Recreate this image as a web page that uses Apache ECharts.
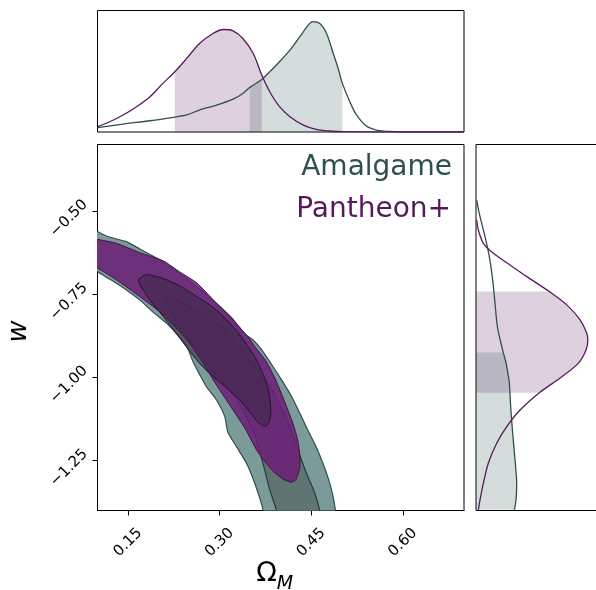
<!DOCTYPE html>
<html>
<head>
<meta charset="utf-8">
<script src="https://cdn.jsdelivr.net/npm/echarts@6/dist/echarts.min.js"></script>
<style>
  html, body { margin: 0; padding: 0; background: #ffffff; }
  #chart { width: 596px; height: 590px; }
</style>
</head>
<body>
<div id="chart"></div>
<script>
// ---- Marginal posterior of Omega_M (top panel) ----
const pantheonOmega = [0.100, 0.120, 0.142, 0.164, 0.186, 0.207, 0.2265, 0.246, 0.267, 0.289, 0.306, 0.322, 0.338, 0.355, 0.3689, 0.382, 0.398, 0.415, 0.437, 0.458, 0.480, 0.502, 0.550, 0.600, 0.700];
const pantheonOmegaDensity = [0.048, 0.093, 0.154, 0.229, 0.319, 0.440, 0.545, 0.666, 0.801, 0.892, 0.928, 0.916, 0.846, 0.711, 0.515, 0.364, 0.229, 0.139, 0.063, 0.024, 0.009, 0.003, 0.001, 0, 0];
const amalgameOmega = [0.100, 0.142, 0.186, 0.224, 0.246, 0.267, 0.295, 0.322, 0.338, 0.3493, 0.369, 0.382, 0.398, 0.415, 0.431, 0.445, 0.452, 0.464, 0.475, 0.486, 0.494, 0.5009, 0.513, 0.524, 0.540, 0.557, 0.578, 0.633, 0.700];
const amalgameOmegaDensity = [0.039, 0.072, 0.102, 0.133, 0.154, 0.199, 0.244, 0.298, 0.349, 0.404, 0.476, 0.545, 0.636, 0.741, 0.861, 0.967, 1.000, 0.982, 0.892, 0.711, 0.575, 0.440, 0.274, 0.154, 0.054, 0.018, 0.006, 0.003, 0.003];
const pantheonOmegaInterval = [0.2265, 0.3689];
const amalgameOmegaInterval = [0.3493, 0.5009];

// ---- Marginal posterior of w (right panel) ----
const pantheonW = [-0.527, -0.557, -0.597, -0.627, -0.662, -0.697, -0.742, -0.782, -0.827, -0.867, -0.887, -0.917, -0.957, -1.002, -1.046, -1.098, -1.148, -1.198, -1.258, -1.318, -1.368, -1.398];
const pantheonWDensity = [0.006, 0.021, 0.066, 0.155, 0.304, 0.454, 0.656, 0.812, 0.931, 0.991, 1.000, 0.985, 0.916, 0.752, 0.567, 0.394, 0.275, 0.185, 0.110, 0.066, 0.036, 0.021];
const amalgameW = [-0.467, -0.517, -0.577, -0.637, -0.707, -0.777, -0.847, -0.907, -0.9255, -0.957, -1.017, -1.088, -1.168, -1.248, -1.318, -1.368, -1.398];
const amalgameWDensity = [0.006, 0.036, 0.081, 0.119, 0.149, 0.170, 0.191, 0.230, 0.244, 0.269, 0.298, 0.310, 0.328, 0.349, 0.364, 0.358, 0.343];
const pantheonWInterval = [-1.046, -0.742];
const amalgameWInterval = [-1.398, -0.9255];

// ---- Joint credible contours [Omega_M, w] ----
const amalgameContour2 = [
  [0.0907, -0.557], [0.100, -0.562], [0.1147, -0.575], [0.1311, -0.584], [0.1475, -0.592], [0.1692, -0.614],
  [0.1966, -0.641], [0.2265, -0.677], [0.2592, -0.722], [0.2920, -0.773], [0.3198, -0.821], [0.3394, -0.866],
  [0.3542, -0.887], [0.3689, -0.917], [0.3853, -0.962], [0.4016, -1.008], [0.4164, -1.053], [0.4311, -1.107],
  [0.4442, -1.158], [0.4573, -1.206], [0.4688, -1.257], [0.4786, -1.308], [0.4851, -1.353], [0.4900, -1.404],
  [0.4917, -1.428], [0.3689, -1.428], [0.3710, -1.398], [0.3574, -1.318], [0.3439, -1.258], [0.3275, -1.208],
  [0.3133, -1.164], [0.3084, -1.118], [0.2948, -1.068], [0.2784, -1.028], [0.2674, -0.992], [0.2565, -0.953],
  [0.2457, -0.905], [0.2281, -0.866], [0.2129, -0.837], [0.1905, -0.803], [0.1692, -0.767], [0.1496, -0.740],
  [0.1311, -0.717], [0.1136, -0.698], [0.100, -0.682], [0.0907, -0.677]
];
const amalgameContour1 = [
  [0.2085, -0.761], [0.2216, -0.757], [0.2347, -0.770], [0.2560, -0.794], [0.2789, -0.821], [0.3034, -0.848],
  [0.3247, -0.893], [0.3460, -0.941], [0.3656, -0.986], [0.3836, -1.029], [0.3984, -1.083], [0.4115, -1.134],
  [0.4229, -1.188], [0.4311, -1.233], [0.4421, -1.288], [0.4557, -1.348], [0.4638, -1.400], [0.4655, -1.428],
  [0.3918, -1.428], [0.3930, -1.400], [0.3820, -1.338], [0.3738, -1.278], [0.3656, -1.224], [0.3574, -1.173],
  [0.3444, -1.122], [0.3296, -1.068], [0.3100, -1.023], [0.2871, -0.977], [0.2642, -0.923], [0.2429, -0.869],
  [0.2265, -0.821], [0.2134, -0.782]
];
const pantheonContour2 = [
  [0.0907, -0.671], [0.100, -0.672], [0.1311, -0.707], [0.1692, -0.757], [0.2020, -0.803], [0.2347, -0.863],
  [0.2560, -0.911], [0.2756, -0.965], [0.2948, -1.023], [0.3165, -1.083], [0.3411, -1.152], [0.3624, -1.224],
  [0.3853, -1.278], [0.4033, -1.305], [0.4164, -1.315], [0.4246, -1.308], [0.4311, -1.272], [0.4311, -1.233],
  [0.4278, -1.188], [0.4197, -1.137], [0.4066, -1.074], [0.3918, -1.008], [0.3766, -0.953], [0.3591, -0.911],
  [0.3460, -0.878], [0.3219, -0.827], [0.2948, -0.777], [0.2625, -0.716], [0.2347, -0.683], [0.2080, -0.650],
  [0.1692, -0.625], [0.1311, -0.597], [0.100, -0.585], [0.0907, -0.581]
];
const pantheonContour1 = [
  [0.1676, -0.704], [0.1807, -0.691], [0.2080, -0.703], [0.2347, -0.725], [0.2625, -0.757], [0.2838, -0.782],
  [0.3062, -0.817], [0.3264, -0.857], [0.3427, -0.896], [0.3602, -0.947], [0.3722, -0.995], [0.3804, -1.044],
  [0.3836, -1.089], [0.3828, -1.122], [0.3779, -1.143], [0.3722, -1.146], [0.3624, -1.134], [0.3493, -1.104],
  [0.3329, -1.068], [0.3165, -1.041], [0.3002, -1.014], [0.2838, -0.989], [0.2620, -0.947], [0.2429, -0.902],
  [0.2281, -0.866], [0.2118, -0.827], [0.1987, -0.797], [0.1856, -0.767], [0.1758, -0.740], [0.1692, -0.722]
];

// ---- Axis ticks ----
const omegaTicks = [0.15, 0.30, 0.45, 0.60];
const wTicks = [-1.25, -1.00, -0.75, -0.50];
const omegaRange = [0.1, 0.7];
const wRange = [-1.4, -0.3];

const AMALGAME = '#2f4f4f';
const PANTHEON = '#561a5c';
const FONT = '"DejaVu Sans", "Liberation Sans", sans-serif';

function zip(a, b) { return a.map((v, i) => [v, b[i]]); }

function polygonSeries(points, fill, stroke, lineWidth, axisIndex, z, smooth) {
  return {
    type: 'custom', xAxisIndex: axisIndex, yAxisIndex: axisIndex, clip: true, z: z, silent: true,
    data: points, encode: { x: 0, y: 1 },
    renderItem: function (params, api) {
      if (params.dataIndex !== 0) return null;
      return {
        type: 'polygon',
        shape: { points: points.map(p => api.coord(p)), smooth: smooth },
        style: { fill: fill, stroke: stroke, lineWidth: lineWidth }
      };
    }
  };
}

// top-panel shaded interval under the curve
function topFill(xs, ys, interval, color) {
  const pts = zip(xs, ys).filter(p => p[0] >= interval[0] - 1e-9 && p[0] <= interval[1] + 1e-9);
  return {
    type: 'line', xAxisIndex: 0, yAxisIndex: 0, data: pts, smooth: 0.3, symbol: 'none', silent: true, z: 1,
    lineStyle: { width: 0, opacity: 0 },
    areaStyle: { color: color, opacity: 0.2 }
  };
}

// right-panel shaded interval between axis and curve
function rightFill(ws, dens, interval, color) {
  const pts = zip(dens, ws).filter(p => p[1] >= interval[0] - 1e-9 && p[1] <= interval[1] + 1e-9);
  const poly = [[0, pts[0][1]]].concat(pts, [[0, pts[pts.length - 1][1]]]);
  return polygonSeries(poly, color, 'none', 0, 2, 1, 0);
}

function fmt(v) {
  return (v < 0 ? '\u2212' : '') + Math.abs(v).toFixed(2);
}

const chart = echarts.init(document.getElementById('chart'), null, { renderer: 'canvas' });

const hiddenAxis = { show: false, splitLine: { show: false } };
const panel = { show: true, borderColor: '#000', borderWidth: 1, backgroundColor: 'transparent', containLabel: false, outerBoundsMode: 'none' };

chart.setOption({
  animation: false,
  backgroundColor: '#ffffff',
  grid: [
    Object.assign({ left: 97.5, top: 10.5, width: 366.5, height: 121.5 }, panel),
    Object.assign({ left: 97.5, top: 144.5, width: 366.5, height: 366 }, panel),
    Object.assign({ left: 476, top: 144.5, width: 123, height: 366 }, panel)
  ],
  xAxis: [
    Object.assign({ type: 'value', gridIndex: 0, min: omegaRange[0], max: omegaRange[1] }, hiddenAxis),
    {
      type: 'value', gridIndex: 1, min: omegaRange[0], max: omegaRange[1],
      splitLine: { show: false },
      axisLine: { show: true, onZero: false, lineStyle: { color: '#000', width: 1 } },
      axisTick: { show: true, customValues: omegaTicks, length: 5, lineStyle: { color: '#000', width: 1 } },
      axisLabel: {
        customValues: omegaTicks, formatter: fmt, rotate: 45, align: 'center', verticalAlign: 'middle',
        margin: 32, fontSize: 15, color: '#000', fontFamily: FONT
      },
      name: '{o|\u03A9}{s|M}', nameLocation: 'middle', nameGap: 50, nameMoveOverlap: false,
      nameTextStyle: {
        padding: [0, 12, 0, 0],
        rich: {
          o: { fontSize: 27, fontFamily: FONT, color: '#000', lineHeight: 32, verticalAlign: 'top' },
          s: { fontSize: 19, fontFamily: FONT, fontStyle: 'italic', color: '#000', lineHeight: 19, padding: [16, 0, 0, 0] }
        }
      }
    },
    Object.assign({ type: 'value', gridIndex: 2, min: 0, max: 1.1 }, hiddenAxis)
  ],
  yAxis: [
    Object.assign({ type: 'value', gridIndex: 0, min: 0, max: 1.1 }, hiddenAxis),
    {
      type: 'value', gridIndex: 1, min: wRange[0], max: wRange[1],
      splitLine: { show: false },
      axisLine: { show: true, onZero: false, lineStyle: { color: '#000', width: 1 } },
      axisTick: { show: true, customValues: wTicks, length: 5, lineStyle: { color: '#000', width: 1 } },
      axisLabel: {
        customValues: wTicks, formatter: fmt, rotate: 45, align: 'center', verticalAlign: 'middle',
        margin: 21, fontSize: 15, color: '#000', fontFamily: FONT, padding: [21, 21, 0, 0]
      },
      name: 'w', nameLocation: 'middle', nameRotate: 90, nameGap: 65, nameMoveOverlap: false,
      nameTextStyle: { fontSize: 27, fontStyle: 'italic', fontFamily: FONT, color: '#000', padding: [0, 8, 0, 0] }
    },
    Object.assign({ type: 'value', gridIndex: 2, min: wRange[0], max: wRange[1] }, hiddenAxis)
  ],
  graphic: [
    { type: 'text', x: 452, y: 168, z: 100,
      style: { text: 'Amalgame', fill: AMALGAME, font: '28px ' + FONT, align: 'right', verticalAlign: 'middle', textAlign: 'right', textVerticalAlign: 'middle' } },
    { type: 'text', x: 451, y: 209.5, z: 100,
      style: { text: 'Pantheon+', fill: PANTHEON, font: '28px ' + FONT, align: 'right', verticalAlign: 'middle', textAlign: 'right', textVerticalAlign: 'middle' } }
  ],
  series: [
    // top marginal
    topFill(pantheonOmega, pantheonOmegaDensity, pantheonOmegaInterval, PANTHEON),
    topFill(amalgameOmega, amalgameOmegaDensity, amalgameOmegaInterval, AMALGAME),
    { name: 'Amalgame', type: 'line', xAxisIndex: 0, yAxisIndex: 0, data: zip(amalgameOmega, amalgameOmegaDensity),
      smooth: 0.3, symbol: 'none', z: 3, lineStyle: { color: AMALGAME, width: 1.3 } },
    { name: 'Pantheon+', type: 'line', xAxisIndex: 0, yAxisIndex: 0, data: zip(pantheonOmega, pantheonOmegaDensity),
      smooth: 0.3, symbol: 'none', z: 3, lineStyle: { color: PANTHEON, width: 1.3 } },

    // joint contours
    polygonSeries(amalgameContour2, '#7a9b98', AMALGAME, 1.2, 1, 2, 0.2),
    polygonSeries(amalgameContour1, '#607571', '#223c3c', 1.2, 1, 2, 0.2),
    polygonSeries(pantheonContour2, 'rgba(107,30,117,0.85)', '#451049', 1, 1, 2, 0.2),
    polygonSeries(pantheonContour1, 'rgba(55,40,68,0.58)', '#2e0c33', 1, 1, 2, 0.2),

    // right marginal
    rightFill(pantheonW, pantheonWDensity, pantheonWInterval, 'rgba(86,26,92,0.2)'),
    rightFill(amalgameW, amalgameWDensity, amalgameWInterval, 'rgba(47,79,79,0.2)'),
    { type: 'line', xAxisIndex: 2, yAxisIndex: 2, data: zip(amalgameWDensity, amalgameW),
      smooth: 0.3, symbol: 'none', z: 3, lineStyle: { color: AMALGAME, width: 1.3 } },
    { type: 'line', xAxisIndex: 2, yAxisIndex: 2, data: zip(pantheonWDensity, pantheonW),
      smooth: 0.3, symbol: 'none', z: 3, lineStyle: { color: PANTHEON, width: 1.3 } }
  ]
});
</script>
</body>
</html>
